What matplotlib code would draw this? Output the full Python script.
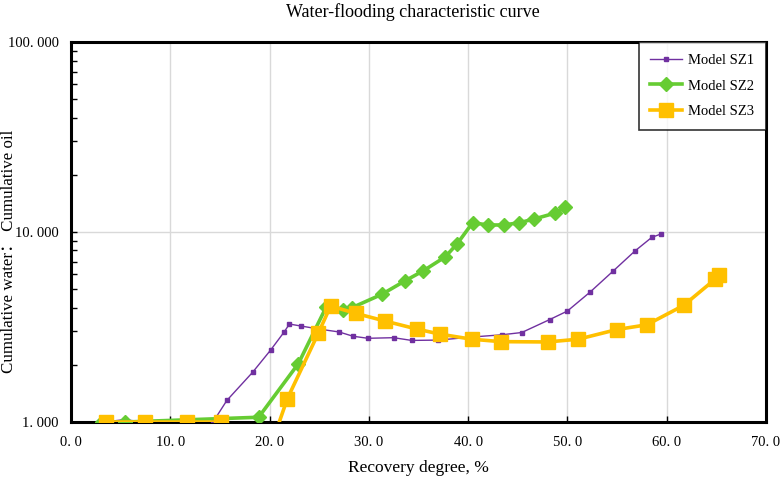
import matplotlib.pyplot as plt
from matplotlib.ticker import FixedLocator, FuncFormatter, LogLocator, NullFormatter

plt.rcParams['font.family'] = ['Liberation Serif', 'DejaVu Serif']

# data
sz1_x = [3.3, 5.4, 7.3, 11.5, 14.3, 15.7, 18.3, 20.1, 21.45, 22.0, 23.2, 25.1, 27.0,
         28.4, 29.9, 32.5, 34.3, 37.0, 40.3, 43.4, 45.4, 48.2, 50.0, 52.3, 54.6,
         56.8, 58.5, 59.4]
sz1_y = [1.0, 1.03, 1.0, 1.0, 1.0, 1.30, 1.83, 2.39, 2.97, 3.28, 3.20, 3.08, 2.98,
         2.83, 2.76, 2.78, 2.69, 2.70, 2.80, 2.88, 2.96, 3.46, 3.84, 4.84, 6.23,
         7.95, 9.38, 9.76]

sz2_x = [3.1, 5.4, 18.9, 22.9, 25.7, 27.4, 28.3, 31.3, 33.6, 35.5, 37.7, 38.9,
         40.45, 42.0, 43.6, 45.15, 46.6, 48.8, 49.75]
sz2_y = [1.0, 1.0, 1.06, 2.03, 4.03, 3.87, 4.0, 4.70, 5.52, 6.26, 7.41, 8.68,
         11.2, 10.9, 10.9, 11.2, 11.7, 12.6, 13.5]

sz3_x = [3.5, 7.45, 11.65, 15.1, 20.4, 21.8, 24.9, 26.15, 28.7, 31.65, 34.8, 37.2,
         40.35, 43.3, 48.0, 51.1, 55.0, 58.0, 61.7, 64.9, 65.3]
sz3_y = [1.0, 1.0, 1.0, 1.0, 0.82, 1.33, 2.93, 4.08, 3.73, 3.40, 3.09, 2.90,
         2.73, 2.65, 2.64, 2.73, 3.07, 3.25, 4.11, 5.66, 5.92]

x_ticks = [0, 10, 20, 30, 40, 50, 60, 70]
y_ticks = [1, 10, 100]

fig = plt.figure(figsize=(7.82, 4.84), dpi=100)
ax = fig.add_axes([0.0908, 0.128, 0.8887, 0.785])

ax.plot(sz1_x, sz1_y, color='#7030A0', lw=1.0, marker='s', ms=3.5,
        label='Model SZ1', zorder=3)
ax.plot(sz2_x, sz2_y, color='#66CC33', lw=2.6, marker='D', ms=7,
        label='Model SZ2', zorder=4)
ax.plot(sz3_x, sz3_y, color='#FFC000', lw=2.6, marker='s', ms=9.5,
        label='Model SZ3', zorder=5)

ax.set_yscale('log')
ax.set_xlim(0, 70)
ax.set_ylim(1, 100)
ax.xaxis.set_major_locator(FixedLocator(x_ticks))
ax.yaxis.set_major_locator(FixedLocator(y_ticks))
ax.yaxis.set_minor_locator(LogLocator(base=10, subs=range(2, 10)))
ax.yaxis.set_minor_formatter(NullFormatter())
ax.xaxis.set_major_formatter(FuncFormatter(lambda v, p: f"{v:.1f}".replace('.', '. ')))
ax.yaxis.set_major_formatter(FuncFormatter(lambda v, p: f"{v:.3f}".replace('.', '. ')))

ax.grid(True, which='major', color='#D9D9D9', lw=1.0)
ax.set_axisbelow(True)
for s in ax.spines.values():
    s.set_linewidth(2.2)
    s.set_color('black')
ax.tick_params(which='both', direction='in', labelsize=10.5)
ax.tick_params(which='major', length=4, width=1)
ax.tick_params(which='minor', length=4, width=1)
ax.tick_params(axis='y', pad=9)
ax.tick_params(axis='x', pad=10)

# axis titles placed by hand as in the reference
fig.text(418 / 782, 1 - 468 / 484, 'Recovery degree, %', ha='center', va='center',
         fontsize=12.5)
fig.text(9 / 782, 1 - 251 / 484, 'Cumulative water： Cumulative oil', ha='center',
         va='center', rotation=90, fontsize=12.2,
         family=['Liberation Serif', 'Noto Sans CJK SC'])
fig.text(413 / 782, 1 - 12 / 484, 'Water-flooding characteristic curve', ha='center',
         va='center', fontsize=13)

leg = ax.legend(loc='upper right', fontsize=10.5, frameon=True, fancybox=False,
                borderaxespad=0, borderpad=0.8, labelspacing=0.85, handlelength=2.2,
                handletextpad=0.4, edgecolor='black')
leg.get_frame().set_linewidth(1.2)

fig.savefig('out.png', dpi=100)
